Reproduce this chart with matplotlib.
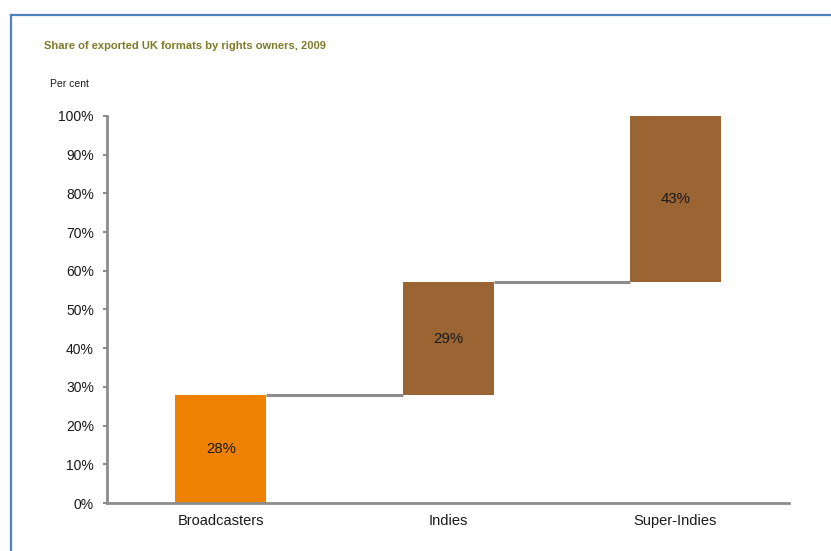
import matplotlib.pyplot as plt
from matplotlib.lines import Line2D
from matplotlib.ticker import FuncFormatter

# Parts des formats exportés, par détenteur de droits
owners = ["Broadcasters", "Indies", "Super-Indies"]
shares = [28, 29, 43]
colors = ["#EE8200", "#9A6532", "#9A6532"]

plt.rcParams['font.family'] = ['Liberation Sans', 'DejaVu Sans']

fig = plt.figure(figsize=(8.31, 5.51), dpi=100)
ax = fig.add_axes([0.1288, 0.0871, 0.8207, 0.7024])

# cadre bleu autour du graphique
fig.add_artist(Line2D([10.5 / 831, 10.5 / 831], [0, 1 - 14.5 / 551],
                      transform=fig.transFigure, color="#4F81BD", lw=1.6))
fig.add_artist(Line2D([10.5 / 831, 1], [1 - 14.5 / 551, 1 - 14.5 / 551],
                      transform=fig.transFigure, color="#4F81BD", lw=1.6))

bottoms = [sum(shares[:i]) for i in range(len(shares))]
x = range(len(owners))
width = 0.4
bars = ax.bar(x, shares, width, bottom=bottoms, color=colors)

for i, (b, s) in enumerate(zip(bottoms, shares)):
    ax.text(i, b + s / 2, f"{s}%", ha="center", va="center", fontsize=10.8, color="#1a1a1a")

# traits de liaison entre les barres
for i in range(len(shares) - 1):
    level = bottoms[i] + shares[i]
    ax.plot([i + width / 2, i + 1 - width / 2], [level, level], color="#8c8c8c", lw=2.2,
            solid_capstyle="butt")

ax.set_xlim(-0.5, 2.5)
ax.set_ylim(0, 100)
ax.set_yticks(range(0, 101, 10))
ax.yaxis.set_major_formatter(FuncFormatter(lambda v, p: f"{v:.0f}%"))
ax.set_xticks(list(x))
ax.set_xticklabels(owners)
ax.tick_params(axis="y", length=3, width=1.5, color="#8c8c8c", pad=6.5, labelsize=10,
               labelcolor="#1a1a1a")
ax.tick_params(axis="x", length=0, pad=8, labelsize=10.5, labelcolor="#1a1a1a")

for side in ["top", "right"]:
    ax.spines[side].set_visible(False)
for side in ["left", "bottom"]:
    ax.spines[side].set_color("#8c8c8c")
    ax.spines[side].set_linewidth(2)

fig.text(44 / 831, 1 - 46 / 551, "Share of exported UK formats by rights owners, 2009",
         fontsize=8, fontweight="bold", color="#7F7A28", va="center", ha="left")
fig.text(50 / 831, 1 - 84 / 551, "Per cent", fontsize=7.5, color="#1a1a1a",
         va="center", ha="left")

fig.savefig("out.png", dpi=100)
